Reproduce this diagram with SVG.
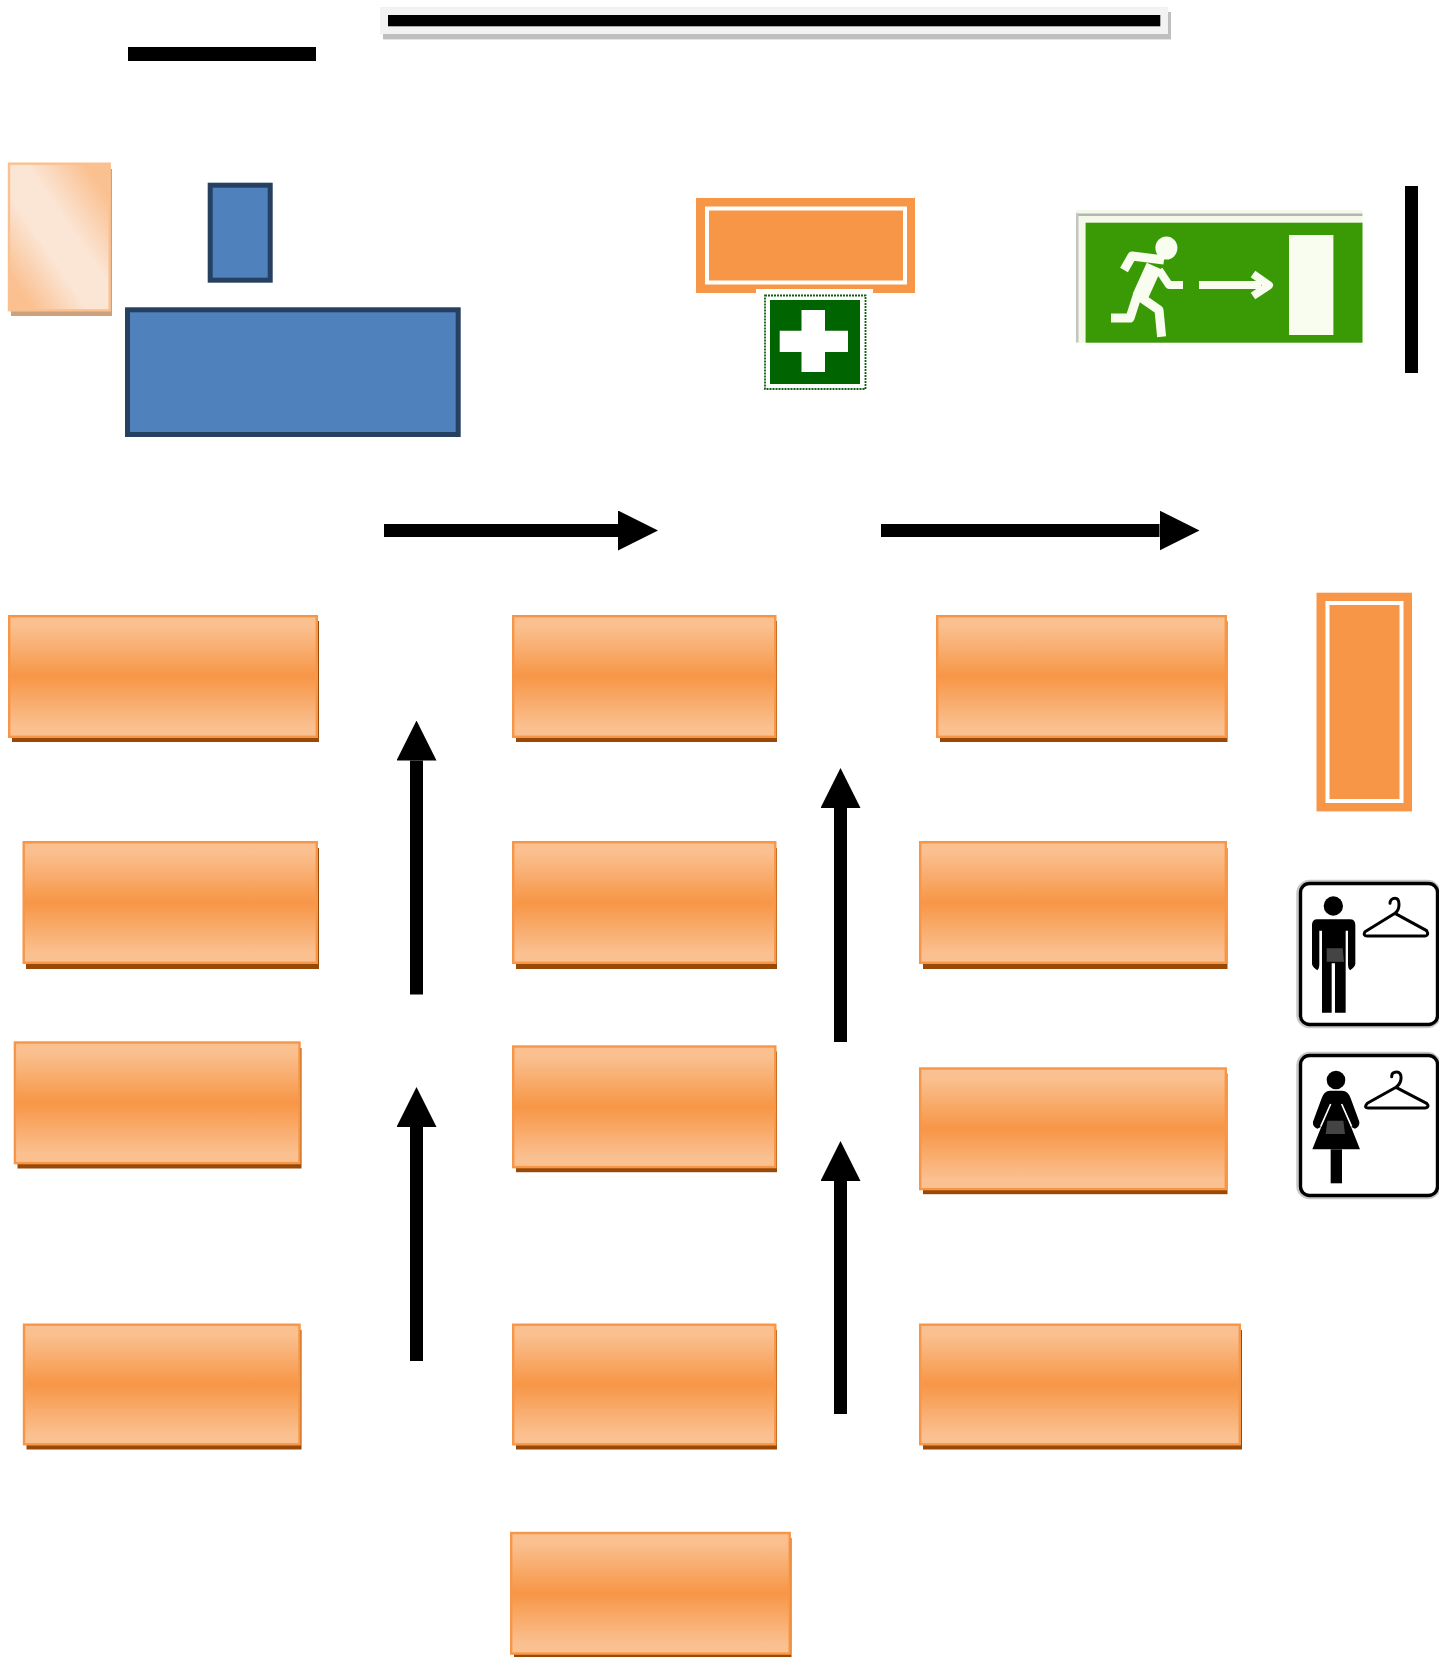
<svg xmlns="http://www.w3.org/2000/svg" width="1439" height="1657" viewBox="0 0 1439 1657">
<style>
.sh{fill:#984807}
.bx{fill:url(#og);stroke:#f79646;stroke-width:2.4}
.bl{fill:#4f81bd;stroke:#254061;stroke-width:5}
.fr{fill:#f79646}
.fi{fill:#f79646;stroke:#fff;stroke-width:4}
.blk{fill:#000}
.wh{fill:#fff}
.ex{fill:none;stroke:#f8fdf0;stroke-linejoin:round}
.ar{stroke:#000;stroke-width:13;fill:none;marker-end:url(#ah)}
.sg{fill:#fff;stroke:#000;stroke-width:3.4}
.ha{fill:none;stroke:#c8c8c8;stroke-width:6.500}
.hg{fill:none;stroke:#000;stroke-width:9;stroke-linejoin:round;stroke-linecap:round}
</style>
<defs>
<linearGradient id="og" x1="0" y1="0" x2="0" y2="1"><stop offset="0.08" stop-color="#fac090"/><stop offset="0.5" stop-color="#f79646"/><stop offset="0.92" stop-color="#fac090"/></linearGradient>
<linearGradient id="pg" x1="1" y1="0" x2="0" y2="1"><stop offset="0.12" stop-color="#fac090"/><stop offset="0.42" stop-color="#fbe6d6"/><stop offset="0.6" stop-color="#fbe6d6"/><stop offset="0.88" stop-color="#fac090"/></linearGradient>
<marker id="ah" markerUnits="userSpaceOnUse" markerWidth="40" markerHeight="40" refX="0" refY="20" orient="auto" viewBox="0 0 40 40"><path d="M0 0L40 20L0 40Z" fill="#000"/></marker>
</defs>
<rect width="1439" height="1657" fill="#fff"/>

<g id="title-bar-left"><rect class="blk" x="128" y="47" width="188" height="14"/></g>
<g id="title-bar-main">
<rect x="383" y="12" width="788" height="27.4" fill="#bfbfbf"/>
<rect x="380" y="7" width="788" height="27" fill="#f2f2f2"/>
<rect class="blk" x="388" y="15" width="772.3" height="11.3"/>
</g>

<g id="peach-box">
<rect x="11" y="169" width="101" height="147" fill="#cba27d"/>
<rect x="9" y="163.7" width="100.7" height="146.6" fill="url(#pg)" stroke="#fac090" stroke-width="2.4"/>
</g>
<g id="blue-small"><rect class="bl" x="210.200" y="185.200" width="60" height="95"/></g>
<g id="blue-large"><rect class="bl" x="127.500" y="309.800" width="330.700" height="124.700"/></g>

<g id="orange-frame-top">
<rect class="fr" x="696" y="198" width="219" height="95"/>
<rect class="fi" x="707" y="208.500" width="198" height="74"/>
<rect class="wh" x="756" y="289" width="117" height="4"/>
</g>
<g id="first-aid">
<rect x="765" y="295.500" width="100.500" height="93.500" fill="#fff" stroke="#0f5f0f" stroke-width="1.800" stroke-dasharray="2 1"/>
<rect x="770" y="300" width="90" height="84" fill="#006400"/>
<path class="wh" d="M801.500 310H825V330.700H848V352H825V372H801.500V352H779.700V330.700H801.500Z"/>
</g>
<g id="exit-sign">
<rect x="1076" y="210" width="286.500" height="132.700" fill="#f4f9ea"/>
<rect x="1076" y="213.500" width="286.500" height="2.500" fill="#b5b5b5"/>
<rect x="1076" y="213.500" width="2.500" height="129" fill="#c4c4c4"/>
<rect x="1085.600" y="222.700" width="276.900" height="120" fill="#3a9a06"/>
<rect x="1289" y="235" width="44.400" height="100" fill="#f8fdf0"/>
<ellipse cx="1166.400" cy="248" rx="11" ry="11.500" fill="#f8fdf0"/>
<polyline class="ex" stroke-width="9" points="1164,260 1132,256 1124,270"/>
<polyline class="ex" stroke-width="16" points="1154,266 1140,297"/>
<polyline class="ex" stroke-width="8" points="1159,270 1169,285 1183,285"/>
<polyline class="ex" stroke-width="9" points="1137.400,295 1159,310 1161.600,336.700"/>
<polyline class="ex" stroke-width="9" points="1137.400,295 1130,318 1111,318"/>
<rect x="1199" y="281" width="62" height="8" fill="#f8fdf0"/>
<polyline class="ex" stroke-width="8" points="1253,274 1269,285.300 1253,296"/>
</g>
<g id="bar-right"><rect class="blk" x="1405" y="186" width="13" height="187"/></g>

<g id="box-c1-r1"><rect class="sh" x="12" y="621" width="307" height="121"/><rect class="bx" x="9.200" y="616.200" width="307.600" height="120.600"/></g>
<g id="box-c1-r2"><rect class="sh" x="26" y="848" width="293" height="121"/><rect class="bx" x="23.700" y="842.200" width="293.100" height="120.600"/></g>
<g id="box-c1-r3"><rect class="sh" x="17.500" y="1048" width="284" height="120.500"/><rect class="bx" x="14.900" y="1042.500" width="284.600" height="120.600"/></g>
<g id="box-c1-r4"><rect class="sh" x="26.500" y="1330" width="275" height="119.500"/><rect class="bx" x="24" y="1324.700" width="275.500" height="119.600"/></g>

<g id="box-c2-r1"><rect class="sh" x="516" y="621" width="261" height="121"/><rect class="bx" x="513.200" y="616.200" width="262.100" height="120.600"/></g>
<g id="box-c2-r2"><rect class="sh" x="516" y="848" width="261" height="121"/><rect class="bx" x="513.200" y="842.200" width="262.100" height="120.600"/></g>
<g id="box-c2-r3"><rect class="sh" x="516" y="1051.500" width="261" height="120.700"/><rect class="bx" x="513.200" y="1046.500" width="262.100" height="120.600"/></g>
<g id="box-c2-r4"><rect class="sh" x="516" y="1330" width="261" height="119.500"/><rect class="bx" x="513.200" y="1324.700" width="262.100" height="119.600"/></g>
<g id="box-c2-r5"><rect class="sh" x="514" y="1538" width="277.500" height="119"/><rect class="bx" x="511.200" y="1533" width="278.500" height="120.600"/></g>

<g id="box-c3-r1"><rect class="sh" x="940" y="621" width="287.500" height="121"/><rect class="bx" x="937.200" y="616.200" width="288.600" height="120.600"/></g>
<g id="box-c3-r2"><rect class="sh" x="923" y="848" width="304.500" height="121"/><rect class="bx" x="920.200" y="842.200" width="305.600" height="120.600"/></g>
<g id="box-c3-r3"><rect class="sh" x="923" y="1073.500" width="304.500" height="120.700"/><rect class="bx" x="920.200" y="1068.500" width="305.600" height="120.600"/></g>
<g id="box-c3-r4"><rect class="sh" x="923" y="1330" width="319" height="119.500"/><rect class="bx" x="920.200" y="1324.700" width="319.600" height="119.600"/></g>

<g id="orange-frame-right">
<rect class="fr" x="1316.500" y="592.700" width="95.500" height="218.700"/>
<rect class="fi" x="1327.500" y="603" width="74" height="198"/>
</g>

<g id="cloakroom-men">
<rect class="ha" x="1299.500" y="883" width="138" height="142" rx="10"/>
<rect class="sg" x="1300.500" y="883.500" width="137" height="141" rx="9"/>
<g transform="translate(1280 860) scale(.3333)">
<circle cx="160" cy="138" r="29"/>
<path d="M112 178H210Q226 178 226 195V312Q224 322 210 331Q204 326 204 315V212H197V458H165V310H155V458H126V212H118V315Q118 326 112 331Q98 322 96 312V195Q96 178 112 178Z"/>
<path fill="#444" d="M140 265H188L192 305H140Z"/>
<path class="hg" d="M330 130C330 122 336 115 345 115C360 115 362 148 345 160L255 215Q248 228 262 228H435Q448 226 440 212L345 160"/>
</g>
</g>
<g id="cloakroom-women">
<rect class="ha" x="1299.500" y="1055" width="138" height="141" rx="10"/>
<rect class="sg" x="1300.500" y="1055.500" width="137" height="140" rx="9"/>
<g transform="translate(1280 860) scale(.3333)">
<circle cx="168" cy="660" r="28"/>
<path d="M150 692H186Q205 692 212 715L238 785Q240 800 225 806L213 800L240 868H97L124 800L112 806Q97 800 99 785L125 715Q132 692 150 692Z"/>
<path d="M152 868H186V970H152Z"/>
<path d="M152 732L122 800M185 732L215 800" stroke="#fff" stroke-width="5" fill="none"/>
<path fill="#444" d="M142 782H190L195 822H137Z"/>
<path class="hg" d="M335 650C335 640 342 636 350 636C368 636 368 668 348 682L262 730Q250 744 265 744H435Q450 742 440 730L348 682"/>
</g>
</g>

<g id="connectors">
<line class="ar" x1="384" y1="530.500" x2="618" y2="530.500"/>
<line class="ar" x1="881" y1="530.500" x2="1159.500" y2="530.500"/>
<line class="ar" x1="416.500" y1="994.500" x2="416.500" y2="760.500"/>
<line class="ar" x1="416.500" y1="1361" x2="416.500" y2="1127"/>
<line class="ar" x1="840.500" y1="1042" x2="840.500" y2="808"/>
<line class="ar" x1="840.500" y1="1414" x2="840.500" y2="1181"/>
</g>
</svg>
